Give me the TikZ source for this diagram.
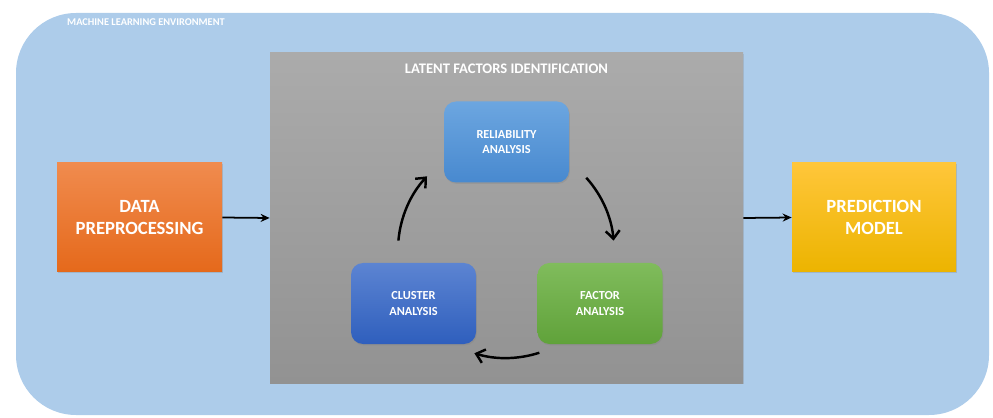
\documentclass[tikz,border=0pt]{standalone}
\usepackage{fontspec}
\setmainfont{Carlito}
\usetikzlibrary{arrows.meta, positioning, shadows}
\definecolor{envFill}{HTML}{ADCCEA}
\definecolor{greyTop}{HTML}{ABABAB}
\definecolor{greyBot}{HTML}{929292}
\definecolor{relTop}{HTML}{6CA6E0}
\definecolor{relBot}{HTML}{4889CF}
\definecolor{cluTop}{HTML}{5C84D2}
\definecolor{cluBot}{HTML}{2F5FBD}
\definecolor{facTop}{HTML}{80BC5C}
\definecolor{facBot}{HTML}{60A23A}
\definecolor{prepTop}{HTML}{F08B4E}
\definecolor{prepBot}{HTML}{E5691B}
\definecolor{predTop}{HTML}{FFC63A}
\definecolor{predMid}{HTML}{FFC000}
\definecolor{predBot}{HTML}{ECB400}
\def\ringR{2.16}

\begin{document}
\begin{tikzpicture}[
    font=\bfseries,
    every node/.style={text=white, align=center},
    stage/.style={minimum width=3.3cm, minimum height=2.18cm,
                  font=\fontsize{10.6}{12}\selectfont\bfseries,
                  drop shadow={opacity=0.3, shadow xshift=0.5pt, shadow yshift=-0.8pt}},
    step box/.style={rounded corners=0.24cm, minimum width=2.5cm, minimum height=1.62cm,
                  font=\fontsize{7}{9}\selectfont\bfseries,
                  drop shadow={opacity=0.3, shadow xshift=0.5pt, shadow yshift=-0.8pt}},
    flow/.style={-{Stealth[length=1.8mm,width=1.6mm]}, line width=1pt, black},
    cyc/.style={-{Straight Barb[length=1.6mm,width=2.8mm]}, line width=1.4pt, black},
    ]
\useasboundingbox (0,0) rectangle (19.86,8.34);

% ====================================================================
% Environment frame
% ====================================================================
\fill[envFill, rounded corners=1.2cm] (0.32,0.04) rectangle (19.78,8.08);
\node[anchor=west, font=\fontsize{5.9}{7}\selectfont\bfseries] (envTitle)
  at (1.22,7.90) {MACHINE LEARNING ENVIRONMENT};

% ====================================================================
% Latent factors block
% ====================================================================
\node[top color=greyTop, bottom color=greyBot, minimum width=9.46cm, minimum height=6.6cm,
      drop shadow={opacity=0.25, shadow xshift=0.5pt, shadow yshift=-0.8pt}]
  (lfi) at (10.13,3.98) {};
\node[font=\fontsize{8.3}{10}\selectfont\bfseries, below=0.1cm of lfi.north] (lfiTitle)
  {LATENT FACTORS IDENTIFICATION};

% Three analysis steps round the cycle
\coordinate (hub) at (10.12,3.34);
\node[step box, top color=relTop, bottom color=relBot] (rel) at (10.13,5.50)
  {RELIABILITY\\ANALYSIS};
\node[step box, top color=facTop, bottom color=facBot] (fac) at (12.00,2.27)
  {FACTOR\\ANALYSIS};
\node[step box, top color=cluTop, bottom color=cluBot] (clu) at (8.27,2.27)
  {CLUSTER\\ANALYSIS};

% Cycle arrows (arcs round the hub)
\draw[cyc] ([shift={(175:\ringR)}]hub) arc[start angle=175, end angle=137, radius=\ringR];
\draw[cyc] ([shift={(42:\ringR)}]hub) arc[start angle=42, end angle=5, radius=\ringR];
\draw[cyc] ([shift={(-72:\ringR)}]hub) arc[start angle=-72, end angle=-107, radius=\ringR];

% ====================================================================
% Input and output stages
% ====================================================================
\node[stage, top color=prepTop, bottom color=prepBot] (prep) at (2.79,3.99)
  {DATA\\PREPROCESSING};
\node[stage, minimum width=3.28cm, top color=predTop, middle color=predMid,
      bottom color=predBot] (pred) at (17.48,3.99)
  {PREDICTION\\MODEL};

\draw[flow] (prep.east) -- (lfi.west);
\draw[flow] (lfi.east) -- (pred.west);

\end{tikzpicture}
\end{document}
